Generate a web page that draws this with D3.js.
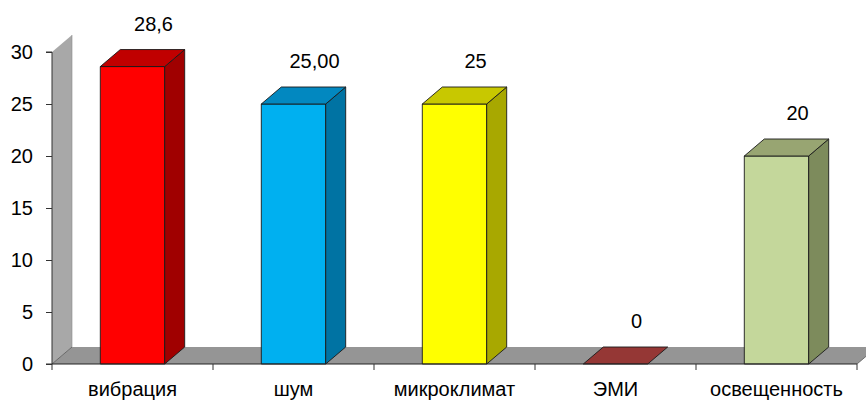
<!DOCTYPE html>
<html><head><meta charset="utf-8">
<script src="https://cdn.jsdelivr.net/npm/d3@7"></script>
<style>
html,body{margin:0;padding:0;background:#fff;}
svg{display:block;font-family:"Liberation Sans",Arial,sans-serif;}
</style>
</head><body>
<svg id="chart" width="866" height="401"></svg>
<script>
const categories = ["вибрация","шум","микроклимат","ЭМИ","освещенность"];
const values = [28.6, 25, 25, 0, 20];
const valueLabels = ["28,6","25,00","25","0","20"];
const yTicks = [0,5,10,15,20,25,30];

const frontColors = ["#FF0000","#00B0F0","#FFFF00","#953735","#C4D79B"];
const topColors   = ["#C00000","#0288C0","#C8C800","#953735","#98A572"];
const sideColors  = ["#A00000","#0073A3","#A8A800","#953735","#7D8B5C"];

(function(){
const svg = d3.select("#chart");
const mLeft = 52, mRight = 857, mBottom = 364, mTop = 52;
const dx = 20, dy = -17;
const fs = 20;

const x = d3.scaleBand().domain(categories).range([mLeft, mRight]).paddingInner(0.6).paddingOuter(0.3);
const y = d3.scaleLinear().domain([0, 30]).range([mBottom, mTop]);
const bw = x.bandwidth();
const bounds = d3.range(categories.length + 1).map(i => mLeft + i * (mRight - mLeft) / categories.length);

// wall
svg.append("polygon")
  .attr("points", [[mLeft, y(30)], [mLeft + dx, y(30) + dy], [mLeft + dx, mBottom + dy], [mLeft, mBottom]].join(" "))
  .attr("fill", "#A8A8A8");
svg.append("line").attr("x1", mLeft + dx).attr("x2", mLeft + dx).attr("y1", y(30) + dy).attr("y2", mBottom + dy)
  .attr("stroke", "#8a8a8a").attr("stroke-width", 0.6);

// floor
svg.append("polygon")
  .attr("points", [[mLeft, mBottom], [mLeft + dx, mBottom + dy], [mRight + dx, mBottom + dy], [mRight, mBottom]].join(" "))
  .attr("fill", "#959595");
svg.append("line").attr("x1", mLeft).attr("y1", mBottom).attr("x2", mLeft + dx).attr("y2", mBottom + dy)
  .attr("stroke", "#555").attr("stroke-width", 0.8);
svg.append("line").attr("x1", mRight).attr("y1", mBottom).attr("x2", mRight + dx).attr("y2", mBottom + dy)
  .attr("stroke", "#555").attr("stroke-width", 0.8);

// bars
const g = svg.append("g").attr("stroke", "#1a1a1a").attr("stroke-width", 0.9).attr("stroke-linejoin", "round");
categories.forEach((c, i) => {
  const v = values[i];
  const x0 = x(c), x1 = x0 + bw, yt = y(v);
  if (v > 0) {
    g.append("rect").attr("x", x0).attr("y", yt).attr("width", bw).attr("height", mBottom - yt)
      .attr("fill", frontColors[i]);
    g.append("polygon")
      .attr("points", [[x1, yt], [x1 + dx, yt + dy], [x1 + dx, mBottom + dy], [x1, mBottom]].join(" "))
      .attr("fill", sideColors[i]);
  }
  g.append("polygon")
    .attr("points", [[x0, yt], [x0 + dx, yt + dy], [x1 + dx, yt + dy], [x1, yt]].join(" "))
    .attr("fill", topColors[i]);
});

// y axis
const yAxis = d3.axisLeft(y).tickValues(yTicks).tickSize(6).tickPadding(13).tickFormat(d3.format("d"));
const ya = svg.append("g").attr("transform", `translate(${mLeft},0)`).call(yAxis);
ya.select(".domain").attr("stroke", "#333").attr("d", `M-6,${mTop}H0V${mBottom}H-6`);
ya.selectAll(".tick line").attr("stroke", "#333");
ya.selectAll(".tick text").attr("font-size", fs).attr("fill", "#000")
  .attr("font-family", "Liberation Sans, Arial, sans-serif");

// x axis baseline and ticks
svg.append("line").attr("x1", mLeft).attr("x2", mRight).attr("y1", mBottom).attr("y2", mBottom)
  .attr("stroke", "#222").attr("stroke-width", 1);
svg.append("g").selectAll("line").data(bounds).join("line")
  .attr("x1", d => d).attr("x2", d => d).attr("y1", mBottom).attr("y2", mBottom + 6)
  .attr("stroke", "#333");

// category labels
svg.append("g").selectAll("text").data(categories).join("text")
  .attr("x", d => x(d) + bw / 2)
  .attr("y", 396)
  .attr("text-anchor", "middle")
  .attr("font-size", fs)
  .text(d => d);

// value labels
svg.append("g").selectAll("text").data(categories).join("text")
  .attr("x", d => x(d) + bw / 2 + dx + 1)
  .attr("y", (d, i) => y(values[i]) + dy - 19)
  .attr("text-anchor", "middle")
  .attr("font-size", fs)
  .text((d, i) => valueLabels[i]);
})();
</script>
</body></html>
